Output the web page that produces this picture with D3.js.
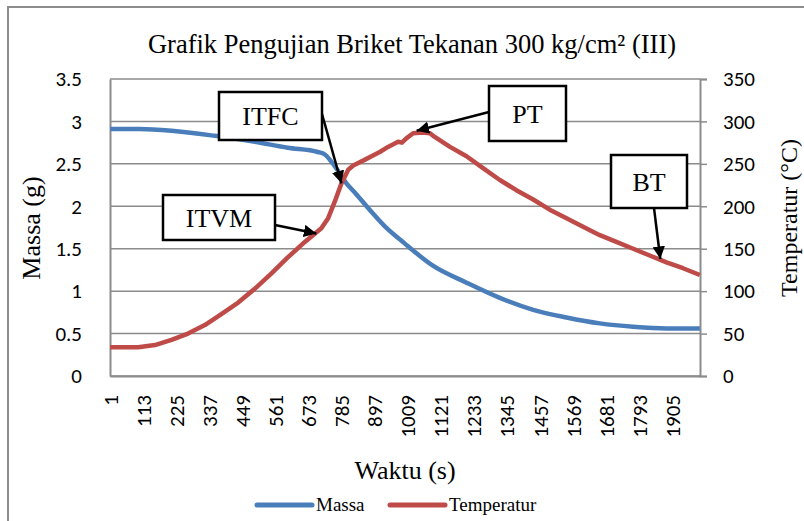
<!DOCTYPE html>
<html>
<head>
<meta charset="utf-8">
<script src="https://cdn.jsdelivr.net/npm/d3@7"></script>
<style>
    body { margin: 0; background: #fff; }
    .tick text { font-family: Carlito, Calibri, "Open Sans", sans-serif; font-size: 21px; fill: #000; }
    .serif { font-family: "Liberation Serif", "Times New Roman", serif; fill: #000; }
</style>
</head>
<body>
<div id="viz_container"></div>
<script>
// data: [sample index, value]
const massa = [
    [1, 2.91], [100, 2.91], [209, 2.89], [356, 2.83], [492, 2.76], [603, 2.69],
    [705, 2.64], [729, 2.61], [750, 2.53], [773, 2.42], [800, 2.28], [831, 2.16],
    [888, 1.93], [942, 1.73], [983, 1.61], [1000, 1.56], [1095, 1.30], [1209, 1.10],
    [1322, 0.92], [1435, 0.78], [1548, 0.69], [1661, 0.62], [1774, 0.58], [1887, 0.56],
    [2000, 0.56]
];
const temperatur = [
    [1, 34], [96, 34], [153, 36.5], [209, 42.5], [265, 50], [322, 60], [378, 73],
    [435, 86.5], [492, 103], [548, 121], [604, 140], [661, 158], [717, 174], [740, 186],
    [763, 206], [785, 227], [808, 243], [825, 248], [842, 251], [865, 255], [887, 259],
    [915, 264], [943, 270], [977, 276], [990, 275], [1005, 280], [1028, 286], [1060, 287],
    [1085, 286], [1096, 283], [1153, 270], [1209, 259], [1265, 245], [1322, 231],
    [1378, 219], [1435, 208], [1491, 196], [1548, 186], [1604, 176], [1661, 166],
    [1717, 158], [1774, 150], [1830, 142], [1887, 134], [1943, 127], [2000, 119]
];
const nSamples = 2000;
const xTickLabels = [1, 113, 225, 337, 449, 561, 673, 785, 897, 1009, 1121, 1233, 1345, 1457, 1569, 1681, 1793, 1905];
const massaTicks = [0, 0.5, 1, 1.5, 2, 2.5, 3, 3.5];
const tempTicks = [0, 50, 100, 150, 200, 250, 300, 350];

// callouts: label, box [x, y, w, h], arrow start, arrow target [sample, temperatur]
const callouts = [
    { label: "ITFC", box: [219, 92, 103, 48], from: [322, 114], to: [785, 227] },
    { label: "ITVM", box: [163, 195, 112, 45], from: [275, 225], to: [700, 168] },
    { label: "PT", box: [489, 86, 77, 55], from: [489, 112], to: [1040, 289] },
    { label: "BT", box: [611, 155, 76, 53], from: [654, 208], to: [1866, 138] }
];

const W = 804, H = 521;
const plot = { left: 110, right: 700, top: 79, bottom: 376 };

const svg = d3.select("#viz_container")
    .append("svg")
    .attr("width", W)
    .attr("height", H);

// outer chart border (runs off the picture on right and bottom)
svg.append("rect")
    .attr("x", 8).attr("y", 7)
    .attr("width", 900).attr("height", 600)
    .attr("fill", "none")
    .attr("stroke", "#8c8c8c")
    .attr("stroke-width", 2);

const x = d3.scaleLinear().domain([0.5, nSamples + 0.5]).range([plot.left, plot.right]);
const yM = d3.scaleLinear().domain([0, 3.5]).range([plot.bottom, plot.top]);
const yT = d3.scaleLinear().domain([0, 350]).range([plot.bottom, plot.top]);

// grid lines
svg.append("g")
    .selectAll("line")
    .data(massaTicks)
    .join("line")
    .attr("x1", plot.left).attr("x2", plot.right)
    .attr("y1", d => yM(d)).attr("y2", d => yM(d))
    .attr("stroke", "#8c8c8c")
    .attr("stroke-width", 1.5);

// left axis
svg.append("g")
    .attr("transform", `translate(${plot.left},0)`)
    .call(d3.axisLeft(yM).tickValues(massaTicks).tickSize(0).tickPadding(28).tickFormat(d3.format("")))
    .call(g => g.select(".domain").attr("stroke", "#8c8c8c").attr("stroke-width", 2));

// right axis
svg.append("g")
    .attr("transform", `translate(${plot.right},0)`)
    .call(d3.axisRight(yT).tickValues(tempTicks).tickSize(7).tickPadding(16))
    .call(g => g.select(".domain").attr("stroke", "#8c8c8c").attr("stroke-width", 2))
    .call(g => g.selectAll(".tick line").attr("stroke", "#8c8c8c").attr("stroke-width", 1.5));

// bottom axis
const xAxis = svg.append("g")
    .attr("transform", `translate(0,${plot.bottom})`)
    .call(d3.axisBottom(x).tickValues(xTickLabels).tickSize(0).tickPadding(0).tickFormat(d3.format("")))
    .call(g => g.select(".domain").attr("stroke", "#8c8c8c").attr("stroke-width", 2));
xAxis.selectAll(".tick text")
    .attr("transform", "rotate(-90)")
    .attr("text-anchor", "end")
    .attr("x", -19)
    .attr("y", 0)
    .attr("dy", "0.35em");

// lines
const lineM = d3.line().curve(d3.curveMonotoneX).x(d => x(d[0])).y(d => yM(d[1]));
const lineT = d3.line().x(d => x(d[0])).y(d => yT(d[1]));

svg.append("path")
    .datum(massa)
    .attr("fill", "none")
    .attr("stroke", "#4a7ebb")
    .attr("stroke-width", 4.5)
    .attr("stroke-linejoin", "round")
    .attr("d", lineM);

svg.append("path")
    .datum(temperatur)
    .attr("fill", "none")
    .attr("stroke", "#be4b48")
    .attr("stroke-width", 4.5)
    .attr("stroke-linejoin", "round")
    .attr("d", lineT);

// arrow marker
svg.append("defs")
    .append("marker")
    .attr("id", "arrow")
    .attr("viewBox", "0 0 10 10")
    .attr("refX", 10).attr("refY", 5)
    .attr("markerWidth", 5).attr("markerHeight", 5)
    .attr("markerUnits", "strokeWidth")
    .attr("orient", "auto")
    .append("path")
    .attr("d", "M0,0 L10,5 L0,10 z")
    .attr("fill", "#000");

// callouts
const co = svg.append("g").selectAll("g").data(callouts).join("g");
co.append("line")
    .attr("x1", d => d.from[0]).attr("y1", d => d.from[1])
    .attr("x2", d => x(d.to[0])).attr("y2", d => yT(d.to[1]))
    .attr("stroke", "#000")
    .attr("stroke-width", 2.5)
    .attr("marker-end", "url(#arrow)");
co.append("rect")
    .attr("x", d => d.box[0]).attr("y", d => d.box[1])
    .attr("width", d => d.box[2]).attr("height", d => d.box[3])
    .attr("fill", "#fff")
    .attr("stroke", "#000")
    .attr("stroke-width", 2.5);
co.append("text")
    .attr("class", "serif")
    .attr("x", d => d.box[0] + d.box[2] / 2)
    .attr("y", d => d.box[1] + d.box[3] / 2)
    .attr("dy", "0.35em")
    .attr("text-anchor", "middle")
    .style("font-size", "26px")
    .text(d => d.label);

// title
svg.append("text")
    .attr("class", "serif")
    .attr("x", 412).attr("y", 53)
    .attr("text-anchor", "middle")
    .style("font-size", "26.5px")
    .text("Grafik Pengujian Briket Tekanan 300 kg/cm² (III)");

// axis titles
svg.append("text")
    .attr("class", "serif")
    .attr("x", 405).attr("y", 479)
    .attr("text-anchor", "middle")
    .style("font-size", "26px")
    .text("Waktu (s)");

svg.append("text")
    .attr("class", "serif")
    .attr("transform", "translate(40,228) rotate(-90)")
    .attr("text-anchor", "middle")
    .style("font-size", "26px")
    .text("Massa (g)");

svg.append("text")
    .attr("class", "serif")
    .attr("transform", "translate(797,218) rotate(-90)")
    .attr("text-anchor", "middle")
    .style("font-size", "24px")
    .text("Temperatur (°C)");

// legend
const legend = [
    { name: "Massa", color: "#4a7ebb", x: 257 },
    { name: "Temperatur", color: "#be4b48", x: 390 }
];
const lg = svg.append("g").selectAll("g").data(legend).join("g");
lg.append("line")
    .attr("x1", d => d.x).attr("x2", d => d.x + 55)
    .attr("y1", 505).attr("y2", 505)
    .attr("stroke", d => d.color)
    .attr("stroke-width", 5)
    .attr("stroke-linecap", "round");
lg.append("text")
    .attr("class", "serif")
    .attr("x", d => d.x + 59)
    .attr("y", 511)
    .style("font-size", "19px")
    .text(d => d.name);
</script>
</body>
</html>
